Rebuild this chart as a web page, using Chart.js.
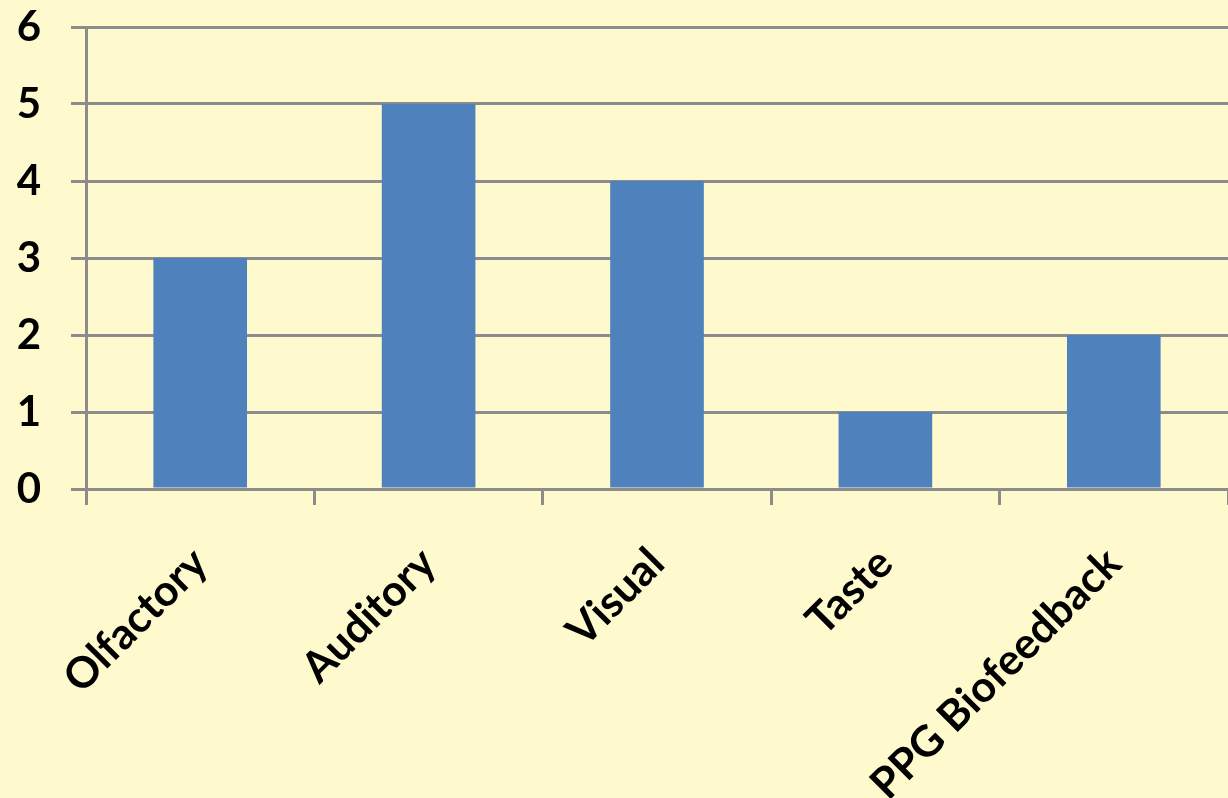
<!DOCTYPE html>
<html>
<head>
<meta charset="utf-8">
<script src="https://cdn.jsdelivr.net/npm/chart.js@4.4.0/dist/chart.umd.min.js"></script>
<style>
  html, body { margin: 0; padding: 0; background: #FFFACD; }
  #wrap { width: 1228px; height: 798px; position: relative; }
</style>
</head>
<body>
<div id="wrap"><canvas id="c" width="1228" height="798"></canvas></div>
<script>
const categories = ["Olfactory", "Auditory", "Visual", "Taste", "PPG Biofeedback"];
const values = [3, 5, 4, 1, 2];
const yTicks = [0, 1, 2, 3, 4, 5, 6];

const gridColor = "#8C8C8C";
const fontFamily = "Lato, 'Open Sans', sans-serif";

new Chart(document.getElementById("c"), {
  type: "bar",
  data: {
    labels: categories,
    datasets: [{
      data: values,
      backgroundColor: "#4F81BD",
      borderWidth: 0,
      categoryPercentage: 1.0,
      barPercentage: 0.41
    }]
  },
  options: {
    responsive: false,
    animation: false,
    devicePixelRatio: 1,
    layout: { padding: { top: 27, right: 0, left: 0, bottom: 0 } },
    plugins: { legend: { display: false }, tooltip: { enabled: false } },
    scales: {
      x: {
        offset: true,
        grid: { offset: true, drawOnChartArea: false, drawTicks: true, tickLength: 16, color: gridColor, lineWidth: 3 },
        border: { display: true, color: gridColor, width: 3 },
        ticks: {
          color: "#000",
          font: { family: fontFamily, size: 43, weight: "bold" },
          maxRotation: 45, minRotation: 45,
          padding: 33,
          autoSkip: false
        },
        afterFit: s => { s.height = 309; s.paddingTop = 0; s.paddingBottom = 0; }
      },
      y: {
        min: 0, max: 6,
        afterBuildTicks: s => { s.ticks = yTicks.map(v => ({ value: v })); },
        grid: { color: gridColor, lineWidth: 3, tickLength: 15, drawTicks: true },
        border: { display: true, color: gridColor, width: 3 },
        ticks: {
          color: "#000",
          font: { family: fontFamily, size: 42, weight: "bold" },
          padding: 30
        },
        afterFit: s => { s.width = 86; s.paddingTop = 0; s.paddingBottom = 0; }
      }
    }
  }
});
</script>
</body>
</html>
